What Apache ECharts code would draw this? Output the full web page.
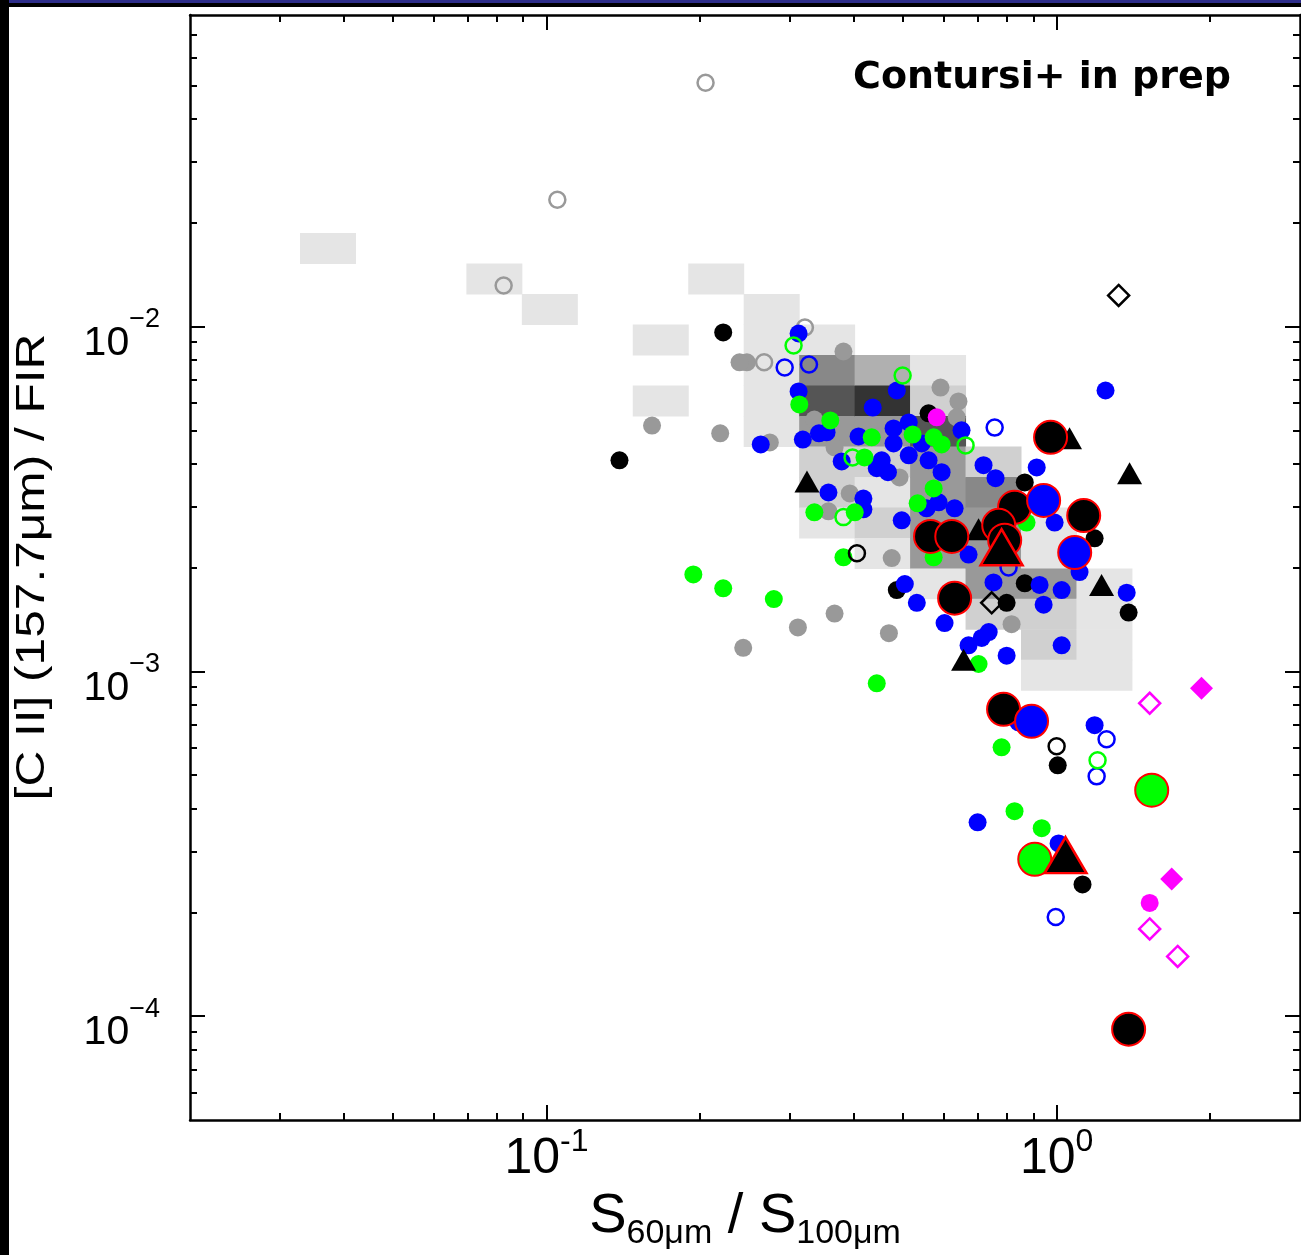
<!DOCTYPE html>
<html>
<head>
<meta charset="utf-8">
<script src="https://cdn.jsdelivr.net/npm/echarts@6/dist/echarts.min.js"></script>
<style>
html,body{margin:0;padding:0;background:#fff;}
#main{width:1301px;height:1255px;}
</style>
</head>
<body>
<div id="main"></div>
<script>
// axis ranges (data units)
var xMin = 0.02, xMax = 3;
var yMin = 5e-5, yMax = 0.08;
var xMajor = [0.1, 1];
var yMajor = [1e-4, 1e-3, 1e-2];
var xMinor = [0.03,0.04,0.05,0.06,0.07,0.08,0.09,0.2,0.3,0.4,0.5,0.6,0.7,0.8,0.9,2];
var yMinor = [6e-5,7e-5,8e-5,9e-5,2e-4,3e-4,4e-4,5e-4,6e-4,7e-4,8e-4,9e-4,
              2e-3,3e-3,4e-3,5e-3,6e-3,7e-3,8e-3,9e-3,0.02,0.03,0.04,0.05,0.06,0.07];

// density map behind the points: bins in log10 units, cells = [col,row,level]
var binX0 = -1.4833, binDX = 0.10873;   // left edge of col 0, width
var binY0 = -1.7290, binDY = 0.08841;   // top edge of row 0, height
var densityCells = [
  [0,0,1],[3,1,1],[7,1,1],[4,2,1],[6,3,1],[6,5,1],
  [8,2,1],[8,3,1],[8,4,1],[8,5,1],[8,6,1],
  [9,3,1],[9,4,5],[9,5,6],[9,6,4],[9,7,2],[9,8,2],[9,9,1],
  [10,4,3],[10,5,7],[10,6,4],[10,7,2],[10,8,1],[10,9,2],[10,10,1],
  [11,4,1],[11,5,2],[11,6,6],[11,7,4],[11,8,4],[11,9,4],[11,10,4],[11,11,1],
  [12,7,2],[12,8,5],[12,9,4],[12,10,4],[12,11,4],[12,12,2],
  [13,9,1],[13,10,1],[13,11,4],[13,12,2],[13,13,2],[13,14,1],
  [14,11,1],[14,12,1],[14,13,1],[14,14,1]
];

// points: [S60/S100, [CII]/FIR]
var greyFilled = [[0.161,0.00516],[0.219,0.00490],[0.247,0.00787],[0.239,0.00787],[0.382,0.00846],
  [0.274,0.00461],[0.592,0.00665],[0.642,0.00606],[0.637,0.00545],[0.335,0.00537],[0.367,0.00446],
  [0.415,0.00509],[0.393,0.00328],[0.357,0.00291],[0.492,0.00365],[0.475,0.00213],[0.816,0.00137],
  [0.243,0.00117],[0.311,0.00134],[0.367,0.00147],[0.469,0.00129]];
var greyOpen = [[0.205,0.0509],[0.105,0.0233],[0.0824,0.01315],[0.321,0.00993],[0.267,0.00787]];
var blackFilled = [[0.222,0.00961],[0.139,0.00409],[0.561,0.0056],[0.866,0.00353],[1.187,0.00243],
  [0.486,0.00172],[0.866,0.0018],[0.798,0.00158],[1.384,0.00148],[1.005,0.000534],[1.124,0.000241]];
var blackOpen = [[0.406,0.0022],[1.0,0.000606]];
var blackOpenDiamond = [[1.323,0.0123],[0.746,0.00158]];
var blackTriangle = [[0.324,0.00355],[1.39,0.00375],[1.225,0.00178],[0.657,0.00108],[1.06,0.00474],[0.703,0.00258]];
var blueFilled = [[0.312,0.00954],[0.312,0.00648],[0.263,0.00455],[0.318,0.00470],[0.342,0.00490],
  [0.354,0.00493],[0.379,0.00406],[0.357,0.00330],[0.409,0.00480],[0.418,0.00295],[0.418,0.00317],
  [0.436,0.00582],[0.454,0.00409],[0.444,0.00388],[0.467,0.00378],[0.479,0.00506],[0.479,0.00458],
  [0.486,0.00652],[0.513,0.00527],[0.513,0.00423],[0.544,0.00458],[0.561,0.00409],[0.595,0.00378],
  [0.587,0.00309],[0.556,0.00297],[0.631,0.00297],[0.497,0.00274],[0.651,0.00500],[0.719,0.00396],
  [0.759,0.00363],[0.914,0.00390],[1.247,0.00652],[0.991,0.00270],[0.672,0.00218],[1.109,0.00194],
  [0.504,0.00179],[0.752,0.00181],[0.926,0.00178],[1.023,0.00172],[0.943,0.00156],[1.372,0.00169],
  [0.532,0.00158],[0.603,0.00138],[0.736,0.00130],[0.713,0.00125],[0.672,0.00119],[0.798,0.00111],
  [1.023,0.00119],[1.187,0.000698],[0.700,0.000365],[0.842,0.000711],[1.009,0.000317]];
var blueOpen = [[0.293,0.0076],[0.327,0.00776],[0.756,0.00509],[0.805,0.0020],[1.253,0.000635],
  [1.198,0.000496],[0.996,0.000194]];
var greenFilled = [[0.194,0.00191],[0.222,0.00174],[0.279,0.00162],[0.313,0.00594],[0.360,0.00534],
  [0.434,0.00477],[0.522,0.00486],[0.574,0.00477],[0.595,0.00455],[0.420,0.00417],[0.335,0.00289],
  [0.402,0.00289],[0.574,0.00339],[0.534,0.00307],[0.382,0.00214],[0.574,0.00214],[0.703,0.00105],
  [0.444,0.000923],[0.780,0.000602],[0.827,0.000393],[0.935,0.000351],[0.873,0.00270]];
var greenOpen = [[0.305,0.00881],[0.499,0.00721],[0.663,0.00452],[0.398,0.00417],[0.382,0.00280],[1.203,0.000552]];
var magentaFilled = [[0.582,0.00545],[1.522,0.000213]];
var magentaDiamond = [[1.923,0.000893],[1.681,0.00025]];
var magentaOpenDiamond = [[1.522,0.000808],[1.522,0.000179],[1.727,0.000149]];
var bigBlack = [[0.973,0.00477],[0.827,0.00299],[1.130,0.00283],[0.566,0.00246],[0.623,0.00246],
  [0.770,0.00265],[0.791,0.00240],[0.631,0.00163],[0.787,0.000776],[1.384,0.0000917]];
var bigBlue = [[0.943,0.00313],[1.085,0.00221],[0.893,0.000716]];
var bigGreen = [[1.536,0.000452],[0.906,0.000285]];
var bigTriangle = [[0.780,0.00229],[1.041,0.000293]];

var shades = ['#ffffff','#e5e5e5','#d0d0d0','#b0b0b0','#999999','#888888','#555555','#333333'];
var FONT = '"Liberation Sans", Arial, sans-serif';

function lg(v){ return Math.log10(v); }
function pts(arr){
  return arr.map(function(p){ return [lg(p[0]), lg(p[1])]; });
}
function powLabel(v, minus){
  var e = Math.round(v);
  return '{b|10}{s|' + (e < 0 ? minus + (-e) : e) + '}';
}

var chart = echarts.init(document.getElementById('main'));

var xRich = {
  b: {fontSize: 50, fontFamily: FONT, color: '#000', lineHeight: 50, padding: [8,0,0,0], verticalAlign: 'top'},
  s: {fontSize: 32, fontFamily: FONT, color: '#000', lineHeight: 32, verticalAlign: 'top'}
};
var yRich = {
  b: {fontSize: 41, fontFamily: FONT, color: '#000', lineHeight: 41, padding: [17,0,24,0], verticalAlign: 'top'},
  s: {fontSize: 27, fontFamily: FONT, color: '#000', lineHeight: 27, verticalAlign: 'top'}
};

function xAx(grid, pos, major){
  var ax = {
    gridIndex: grid, type: 'value', position: pos, min: lg(xMin), max: lg(xMax),
    axisLine: {show: major, onZero: false, lineStyle: {color: '#000', width: 2.5}},
    axisTick: {show: true, inside: true, length: major ? 15 : 7, lineStyle: {color: '#000', width: 2},
      customValues: (major ? xMajor : xMinor).map(lg)},
    axisLabel: {show: false},
    splitLine: {show: false}
  };
  if (major && pos === 'bottom') {
    ax.axisLabel = {show: true, customValues: xMajor.map(lg), margin: 6,
      formatter: function(v){ return powLabel(v, '-'); }, rich: xRich};
    ax.name = '{s|S}{u|60μm}{s| / S}{u|100μm}';
    ax.nameLocation = 'middle';
    ax.nameGap = 53;
    ax.nameTextStyle = {rich: {
      s: {fontSize: 56, fontFamily: FONT, color: '#000', lineHeight: 56, verticalAlign: 'top'},
      u: {fontSize: 34, fontFamily: FONT, color: '#000', lineHeight: 34, padding: [28,0,0,0], verticalAlign: 'top'}
    }};
  }
  return ax;
}
function yAx(grid, pos, major){
  var ax = {
    gridIndex: grid, type: 'value', position: pos, min: lg(yMin), max: lg(yMax),
    axisLine: {show: major, onZero: false, lineStyle: {color: '#000', width: 2.5}},
    axisTick: {show: true, inside: true, length: major ? 15 : 7, lineStyle: {color: '#000', width: 2},
      customValues: (major ? yMajor : yMinor).map(lg)},
    axisLabel: {show: false},
    splitLine: {show: false}
  };
  if (major && pos === 'left') {
    ax.axisLabel = {show: true, customValues: yMajor.map(lg), margin: 30,
      formatter: function(v){ return powLabel(v, '\u2212'); }, rich: yRich};
  }
  return ax;
}

function sc(data, symbol, size, fill, stroke, sw){
  return {
    type: 'scatter', xAxisIndex: 0, yAxisIndex: 0, data: pts(data),
    symbol: symbol, symbolSize: size, silent: true,
    itemStyle: {color: fill, borderColor: stroke, borderWidth: sw, opacity: 1},
    emphasis: {disabled: true}
  };
}

var cellData = densityCells.map(function(c){
  var x0 = binX0 + c[0] * binDX, y0 = binY0 - c[1] * binDY;
  return [x0, x0 + binDX, y0, y0 - binDY, c[2]];
});

var none = 'rgba(0,0,0,0)';
var gridBox = {left: 190, right: 1, top: 15, bottom: 135, containLabel: false, outerBoundsMode: 'none'};
var option = {
  animation: false,
  backgroundColor: '#fff',
  title: {
    text: 'Contursi+ in prep', right: 70, top: 59, padding: 0,
    textStyle: {fontFamily: '"DejaVu Sans", Verdana, sans-serif', fontWeight: 'bold', fontSize: 38, color: '#000'}
  },
  grid: [Object.assign({}, gridBox), Object.assign({}, gridBox)],
  xAxis: [xAx(0, 'bottom', true), xAx(0, 'top', true), xAx(1, 'bottom', false), xAx(1, 'top', false)],
  yAxis: [yAx(0, 'left', true), yAx(0, 'right', true), yAx(1, 'left', false), yAx(1, 'right', false)],
  graphic: [
    {type: 'rect', left: 0, top: 0, shape: {width: 1301, height: 3}, style: {fill: '#2e2e8a'}, z: 100},
    {type: 'rect', left: 0, top: 3, shape: {width: 1301, height: 4}, style: {fill: '#000'}, z: 100},
    {type: 'rect', left: 0, top: 0, shape: {width: 9, height: 1255}, style: {fill: '#000'}, z: 100},
    // y axis title, stretched along its length like the original figure
    {type: 'text', x: 33, y: 567, rotation: Math.PI / 2, scaleX: 1.24, z: 100,
      style: {text: '[C II] (157.7μm) / FIR', font: '40px "Liberation Sans", Arial, sans-serif',
        fill: '#000', align: 'center', verticalAlign: 'middle'}}
  ],
  series: [
    {
      type: 'custom', xAxisIndex: 0, yAxisIndex: 0, data: cellData, silent: true,
      encode: {x: [0, 1], y: [2, 3]},
      renderItem: function(params, api){
        var p0 = api.coord([api.value(0), api.value(2)]);
        var p1 = api.coord([api.value(1), api.value(3)]);
        return {type: 'rect',
          shape: {x: p0[0], y: p0[1], width: p1[0] - p0[0] + 0.5, height: p1[1] - p0[1] + 0.5},
          style: {fill: shades[api.value(4)]}};
      }
    },
    sc(greyFilled, 'circle', 18, '#999999', none, 0),
    sc(greyOpen, 'circle', 16, none, '#999999', 2.5),
    sc(blackFilled, 'circle', 18, '#000', none, 0),
    sc(blueFilled, 'circle', 18, '#0000ff', none, 0),
    sc(greenFilled, 'circle', 18, '#00ff00', none, 0),
    sc(blackOpen, 'circle', 16, none, '#000', 2.5),
    sc(blueOpen, 'circle', 16, none, '#0000ff', 2.5),
    sc(greenOpen, 'circle', 16, none, '#00ff00', 2.5),
    sc(magentaFilled, 'circle', 18, '#ff00ff', none, 0),
    sc(magentaDiamond, 'diamond', 23, '#ff00ff', none, 0),
    sc(magentaOpenDiamond, 'diamond', 21, none, '#ff00ff', 2.5),
    sc(blackOpenDiamond, 'diamond', 21, none, '#000', 2.5),
    sc(blackTriangle, 'triangle', [25, 22], '#000', none, 0),
    sc(bigBlack, 'circle', 33, '#000', '#ff0000', 2),
    sc(bigBlue, 'circle', 33, '#0000ff', '#ff0000', 2),
    sc(bigGreen, 'circle', 33, '#00ff00', '#ff0000', 2),
    sc(bigTriangle, 'triangle', [42, 36], '#000', '#ff0000', 2.5)
  ]
};
chart.setOption(option);
</script>
</body>
</html>
